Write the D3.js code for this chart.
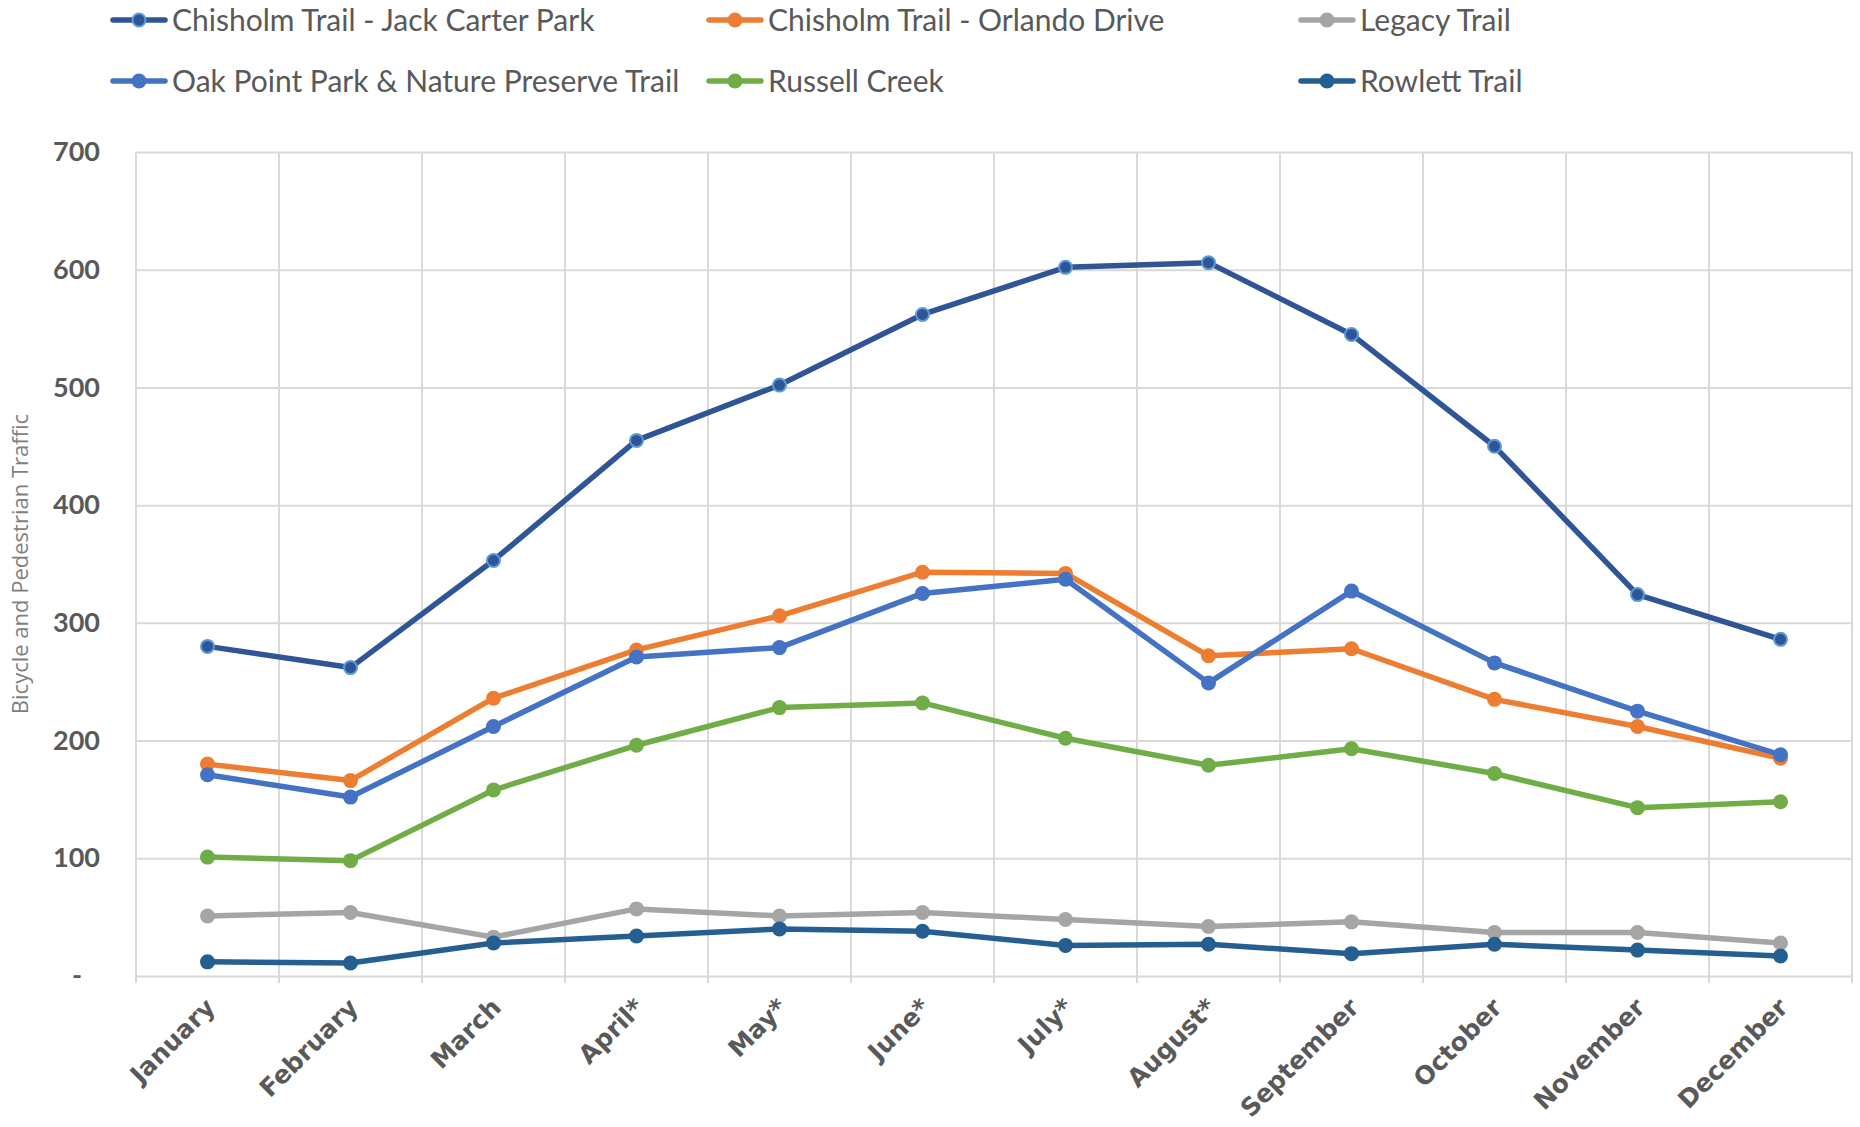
<!DOCTYPE html>
<html>
<head>
<meta charset="utf-8">
<script src="https://cdn.jsdelivr.net/npm/d3@7"></script>
<style>
  body { margin: 0; background: #fff; }
  svg { display: block; }
</style>
</head>
<body>
<svg id="chart" width="1860" height="1127"></svg>
<script>
// categories + tick values
const months = ["January", "February", "March", "April*", "May*", "June*", "July*", "August*", "September", "October", "November", "December"];
const yTicks = [0, 100, 200, 300, 400, 500, 600, 700];

// monthly bicycle + pedestrian counts
const jackCarter = [280, 262, 353, 455, 502, 562, 602, 606, 545, 450, 324, 286];
const orlandoDrive = [180, 166, 236, 277, 306, 343, 342, 272, 278, 235, 212, 185];
const legacyTrail = [51, 54, 33, 57, 51, 54, 48, 42, 46, 37, 37, 28];
const oakPoint = [171, 152, 212, 271, 279, 325, 337, 249, 327, 266, 225, 188];
const russellCreek = [101, 98, 158, 196, 228, 232, 202, 179, 193, 172, 143, 148];
const rowlettTrail = [12, 11, 28, 34, 40, 38, 26, 27, 19, 27, 22, 17];

const seriesNames = ["Chisholm Trail - Jack Carter Park", "Chisholm Trail - Orlando Drive", "Legacy Trail",
    "Oak Point Park & Nature Preserve Trail", "Russell Creek", "Rowlett Trail"];
const seriesValues = [jackCarter, orlandoDrive, legacyTrail, oakPoint, russellCreek, rowlettTrail];
const seriesColors = ["#2F5597", "#ED7D31", "#A5A5A5", "#4472C4", "#70AD47", "#255E91"];

const series = seriesNames.map((name, i) => ({
    name: name,
    color: seriesColors[i],
    values: seriesValues[i].map((v, j) => ({ month: months[j], value: v }))
}));

const plotLeft = 136, plotRight = 1852, plotTop = 152, plotBottom = 976;
const svg = d3.select("#chart");

const x = d3.scaleBand().domain(months).range([plotLeft, plotRight]).padding(0);
const y = d3.scaleLinear().domain([0, 700]).range([plotBottom, plotTop]);

// horizontal gridlines + y labels
const yAxis = svg.append("g")
    .attr("transform", `translate(${plotLeft},0)`)
    .call(d3.axisLeft(y)
        .tickValues(yTicks)
        .tickSize(-(plotRight - plotLeft))
        .tickPadding(36)
        .tickFormat(d => d === 0 ? "-" : d));
yAxis.select(".domain").remove();
yAxis.selectAll("line")
    .attr("stroke", "#D9D9D9")
    .attr("stroke-width", 2);
yAxis.selectAll("text")
    .attr("fill", "#595959")
    .style("font-family", "Lato, 'Open Sans', sans-serif")
    .style("font-weight", "bold")
    .style("font-size", "27px")
    .attr("x", d => d === 0 ? -54 : -36);

// vertical gridlines at the category borders (they run a little past the axis)
const borders = months.map(m => x(m)).concat([x.range()[1]]);
svg.append("g")
    .selectAll("line")
    .data(borders)
    .enter()
    .append("line")
    .attr("x1", d => d)
    .attr("x2", d => d)
    .attr("y1", plotTop)
    .attr("y2", plotBottom + 7)
    .attr("stroke", "#D9D9D9")
    .attr("stroke-width", 2);

// month labels, rotated
const xAxis = svg.append("g")
    .attr("transform", `translate(0,${plotBottom})`)
    .call(d3.axisBottom(x).tickSize(0).tickSizeOuter(0));
xAxis.select(".domain").remove();
xAxis.selectAll("text")
    .attr("x", 0)
    .attr("y", 0)
    .attr("dy", 0)
    .attr("text-anchor", "end")
    .attr("transform", "translate(9,33) rotate(-45)")
    .attr("fill", "#595959")
    .style("font-family", "'DejaVu Sans', sans-serif")
    .style("font-weight", "bold")
    .style("font-size", "25px");

// y axis title
svg.append("text")
    .attr("transform", `translate(28,${(plotTop + plotBottom) / 2}) rotate(-90)`)
    .attr("text-anchor", "middle")
    .attr("fill", "#7F7F7F")
    .style("font-family", "'Open Sans', sans-serif")
    .style("font-size", "22px")
    .text("Bicycle and Pedestrian Traffic");

// lines + markers, one series at a time
const line = d3.line()
    .x(d => x(d.month) + x.bandwidth() / 2)
    .y(d => y(d.value));

series.forEach((s, i) => {
    const g = svg.append("g");
    g.append("path")
        .datum(s.values)
        .attr("d", line)
        .attr("fill", "none")
        .attr("stroke", s.color)
        .attr("stroke-width", 5.5)
        .attr("stroke-linejoin", "round");
    g.selectAll("circle")
        .data(s.values)
        .enter()
        .append("circle")
        .attr("cx", d => x(d.month) + x.bandwidth() / 2)
        .attr("cy", d => y(d.value))
        .attr("r", i === 0 ? 6.5 : 7.5)
        .attr("fill", s.color)
        .attr("stroke", i === 0 ? "#5B9BD5" : "none")
        .attr("stroke-width", 2);
});

// legend, 3 columns x 2 rows
const legendCols = [113, 709, 1301];
const legendRows = [20, 81];
const legend = svg.append("g")
    .selectAll("g")
    .data(series)
    .enter()
    .append("g")
    .attr("transform", (d, i) => `translate(${legendCols[i % 3]},${legendRows[Math.floor(i / 3)]})`);

legend.append("line")
    .attr("x1", 0)
    .attr("x2", 52)
    .attr("stroke", d => d.color)
    .attr("stroke-width", 5.5)
    .attr("stroke-linecap", "round");
legend.append("circle")
    .attr("cx", 26)
    .attr("r", (d, i) => i === 0 ? 6.5 : 7.5)
    .attr("fill", d => d.color)
    .attr("stroke", (d, i) => i === 0 ? "#5B9BD5" : "none")
    .attr("stroke-width", 2);
legend.append("text")
    .attr("x", 59)
    .attr("dy", "0.35em")
    .attr("fill", "#595959")
    .style("font-family", "Lato, sans-serif")
    .style("font-size", "30px")
    .text(d => d.name);
</script>
</body>
</html>
